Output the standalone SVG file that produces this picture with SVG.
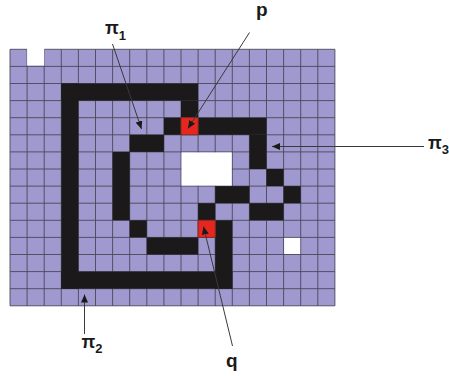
<svg xmlns="http://www.w3.org/2000/svg" width="449" height="376" viewBox="0 0 449 376">
<style>
.lbl{font-family:"Liberation Sans",Arial,sans-serif;font-weight:bold;fill:#1a1a1a}
.ptr{stroke:#3a3a3a;stroke-width:1;fill:none;marker-end:url(#ah)}
.blk{fill:#1b1919}
.wht{fill:#ffffff}
.red{fill:#e62720;stroke:#8a2a20;stroke-width:1;vector-effect:non-scaling-stroke}
.grid{stroke:#4a4858;stroke-width:0.9;fill:none;vector-effect:non-scaling-stroke}
</style>
<defs>
<marker id="ah" markerUnits="userSpaceOnUse" markerWidth="9" markerHeight="7" refX="8" refY="3.5" orient="auto">
<path d="M0,0 L8,3.5 L0,7 Z" fill="#1a1a1a"/>
</marker>
</defs>
<rect width="449" height="376" fill="#ffffff"/>
<g id="grid" transform="translate(10,49.3) scale(17.1)">
<rect x="0" y="0" width="19" height="15" fill="#9f99cf"/>
<path class="grid" d="M0,0V15M1,0V15M2,0V15M3,0V15M4,0V15M5,0V15M6,0V15M7,0V15M8,0V15M9,0V15M10,0V15M11,0V15M12,0V15M13,0V15M14,0V15M15,0V15M16,0V15M17,0V15M18,0V15M19,0V15M0,0H19M0,1H19M0,2H19M0,3H19M0,4H19M0,5H19M0,6H19M0,7H19M0,8H19M0,9H19M0,10H19M0,11H19M0,12H19M0,13H19M0,14H19M0,15H19"/>
<g id="holes">
<rect class="wht" x="1" y="-0.1" width="1" height="1.05"/>
<rect class="wht" x="10.03" y="6.03" width="2.94" height="1.94"/>
<rect class="wht" x="16.03" y="11.03" width="0.94" height="0.94"/>
</g>
<g id="pi2-path">
<rect class="blk" x="3" y="2" width="8" height="1"/>
<rect class="blk" x="3" y="2" width="1" height="12"/>
<rect class="blk" x="3" y="13" width="10" height="1"/>
<rect class="blk" x="10" y="3" width="1" height="1"/>
<rect class="blk" x="12" y="10" width="1" height="4"/>
</g>
<g id="pi1-path">
<rect class="blk" x="9" y="4" width="1" height="1"/>
<rect class="blk" x="7" y="5" width="2" height="1"/>
<rect class="blk" x="6" y="6" width="1" height="4"/>
<rect class="blk" x="7" y="10" width="1" height="1"/>
<rect class="blk" x="8" y="11" width="3" height="1"/>
</g>
<g id="pi3-path">
<rect class="blk" x="11" y="4" width="4" height="1"/>
<rect class="blk" x="14" y="5" width="1" height="2"/>
<rect class="blk" x="15" y="7" width="1" height="1"/>
<rect class="blk" x="16" y="8" width="1" height="1"/>
<rect class="blk" x="14" y="9" width="2" height="1"/>
<rect class="blk" x="12" y="8" width="2" height="1"/>
<rect class="blk" x="11" y="9" width="1" height="1"/>
</g>
<rect id="p-cell" class="red" x="10" y="4" width="1" height="1"/>
<rect id="q-cell" class="red" x="11" y="10" width="1" height="1"/>
</g>
<g id="connectors">
<line class="ptr" x1="249.5" y1="32.5" x2="188" y2="128.5"/>
<line class="ptr" x1="112.5" y1="44" x2="141.5" y2="129"/>
<line class="ptr" x1="424" y1="146.5" x2="272" y2="146.5"/>
<line class="ptr" x1="84.5" y1="334" x2="84.5" y2="294.5"/>
<line class="ptr" x1="232.5" y1="346" x2="203.5" y2="226.5"/>
</g>
<g id="label-p"><text class="lbl" x="256" y="16" font-size="19">p</text></g>
<g id="label-q"><text class="lbl" x="226" y="366.5" font-size="19">q</text></g>
<g id="label-pi1"><text class="lbl" x="105" y="33.5" font-size="18">π<tspan font-size="13" dy="6.5">1</tspan></text></g>
<g id="label-pi2"><text class="lbl" x="81.5" y="348" font-size="18">π<tspan font-size="13" dy="5">2</tspan></text></g>
<g id="label-pi3"><text class="lbl" x="428" y="148.5" font-size="18">π<tspan font-size="13" dy="5">3</tspan></text></g>
</svg>
